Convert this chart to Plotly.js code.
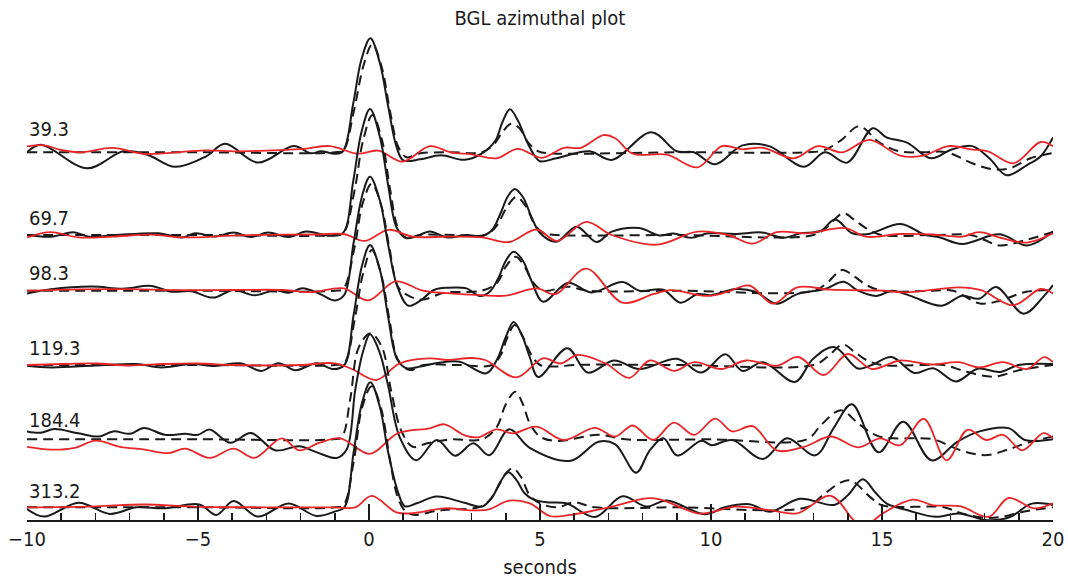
<!DOCTYPE html>
<html><head><meta charset="utf-8">
<script src="https://cdn.plot.ly/plotly-3.0.1.min.js"></script>
<style>html,body{margin:0;padding:0;background:#fff}#chart{width:1068px;height:582px}</style>
</head><body><div id="chart"></div>
<script>
// Station back-azimuth labels, vertical offsets of each trace, label heights
const labels = ['39.3','69.7','98.3','119.3','184.4','313.2'];
const offsets = [367.7, 285, 229.3, 155, 80.7, 12.7];
const labelY = [390.7, 301.7, 246.7, 171.7, 100, 29];

// ---- 39.3 ----
const t1s = [-10,-9.6,-8.24,-7.18,-6.48,-5.67,-4.76,-4.21,-3.25,-2.2,-1.7,-1.4,-1.0,-0.76,-0.46,-0.22,0.04,0.32,0.56,0.8,1.0,1.5,2.1,2.8,3.35,3.7,3.9,4.12,4.35,4.6,4.85,5.0,5.48,6.45,7.1,8.26,9.0,9.5,10.12,10.92,11.7,12.72,13.33,13.98,14.73,15.13,15.73,16.44,17.04,17.64,18.14,18.64,19.24,19.64,20];
const a1s = [0,7.6,-16,1,-2.4,-14.5,-4,8.6,-10.3,6.2,-1,1,-1.5,1,49,93,114,89,46,6,-8,-7,-3,-7.5,0,12,30,43,32,12,-4,-9,-6,1,-7.6,20,1,0,-12,6.9,6.2,-14.5,0,-10.3,24,15,9.7,-6,2.8,6.2,-6,-23,-12.8,-4,14.8];
const t1d = [-10,-5,-1.0,-0.75,-0.45,-0.15,0.1,0.38,0.62,0.86,1.1,1.5,2.4,3.3,3.65,3.9,4.15,4.4,4.65,4.95,5.3,9,12.8,13.3,13.8,14.33,14.93,15.5,16.2,16.9,17.64,18.24,18.74,19.34,20];
const a1d = [0,0,0,2,40,88,108,84,40,5,-5,-1,0,0,8,20,28.6,24,10,1,-1,0,0,2,12,26,9.7,1,0,0,-11,-17,-16,-6,-0.7];
const t1r = [-10,-9.5,-9.0,-8.4,-7.5,-6.6,-5.8,-4.8,-3.8,-2.8,-1.9,-1.14,-0.33,0.27,0.98,1.78,2.39,3.0,3.73,4.35,5.05,5.7,6.2,6.86,7.2,7.71,8.71,9.61,10.32,10.9,11.52,12.42,13.13,13.83,14.63,15.53,16.2,16.94,17.6,18.1,18.84,19.64,20];
const a1r = [6,7,2.3,0,4.5,-1.5,-0.5,2,1,2,3.4,6.2,-1.4,1.7,-9.3,6.2,0,-2,-6,3.5,-5.5,4.5,4.5,17.2,14,-1.4,-2.4,-15,6.2,3,4.5,-6,6.2,0,12.4,-3.4,-3.4,6.2,3,1,-11,10.3,6];

// ---- 69.7 ----
const t2s = [-10,-9.3,-8.64,-8.19,-7.4,-6.17,-5.47,-5.07,-4.5,-3.96,-3.45,-2.95,-2.35,-1.84,-1.14,-0.76,-0.46,-0.22,0.03,0.32,0.56,0.8,1.08,1.4,1.78,2.29,2.85,3.3,3.6,3.85,4.05,4.26,4.5,4.75,5.0,5.48,6.07,6.66,7.1,7.9,8.5,8.9,9.41,9.92,10.7,11.5,12.12,12.62,13.2,13.63,14.13,14.6,15.55,16.23,16.7,17.34,18.44,19.24,20];
const a2s = [0,-1.7,2.8,-1.7,0,1.7,-2.4,1.7,-1.5,2.4,-2,2.4,-2,3.4,-0.7,2,54,103,126,98,50,8,-3,-1,3.5,-2.4,0,-1,5,22,38,46,38,18,2,-6.7,8.3,-7,3.4,6.9,-0.5,1.5,-2.8,1.7,1,2.5,-2.8,1.7,4,15.5,1.7,1,11,0.5,-2.5,-9,0.7,-10.5,3.4];
const t2d = [-10,-5,-1.0,-0.75,-0.42,-0.17,0.1,0.38,0.62,0.86,1.1,1.5,2.5,3.4,3.75,4.0,4.31,4.6,4.85,5.1,5.5,9,13.0,13.4,13.86,14.2,14.54,15.0,16.5,17.6,18.0,18.44,19.2,20];
const a2d = [0,0,0,2,45,95,120,95,45,6,-3,0,0,0,10,26,38,28,10,2,0,0,0,8,21.7,15,6.7,0,0,0,-5,-10.5,-5,3];
const t2r = [-10,-9.3,-8.5,-7.5,-6.4,-5.4,-4.0,-2.5,-1.5,-0.74,-0.13,0.57,1.28,2.3,3.3,4.1,4.9,5.5,6.35,7.1,8.41,9.6,10.5,11.22,11.92,12.8,13.93,14.53,15.5,16.5,17.34,17.84,18.54,19.24,20];
const a2r = [-2.4,2.8,-2.4,-1.7,0.3,-2.4,-0.7,0.3,0.5,1,-5.9,5.2,-1.7,-1.7,-2.4,-7,5.5,-6,13.2,0,-9.7,3.4,0,-8.6,2.8,1.7,6.9,-1.7,1,0.5,-1.7,2.8,-3.4,-7.6,1.7];

// ---- 98.3 ----
const t3s = [-10,-9.3,-8.09,-7.2,-6.37,-5.77,-5.2,-4.56,-3.96,-3.35,-2.75,-2.35,-1.94,-1.45,-0.99,-0.72,-0.45,-0.2,0.03,0.32,0.56,0.82,1.15,1.5,1.9,2.3,2.85,3.24,3.53,3.8,4.0,4.23,4.5,4.75,5.09,5.82,6.5,7.41,7.91,8.6,9.11,9.61,10.0,10.72,11.3,11.92,12.52,13.33,13.88,14.3,14.83,15.3,15.83,16.74,17.34,17.84,18.34,19.14,19.74,20];
const a3s = [-2.8,1.5,4.1,2,4.8,-1,-0.5,-6.9,0.7,-4.5,0.5,-2,2.4,-3,-9.7,-4,48,95,114,90,46,5,-15,-10,0.7,3,2.3,-5.3,-1,14,30,39,30,10,-11,8,-1.7,8.6,0,1,-12,-3.4,-4.5,1.7,-1,-13,-3.4,1.7,9,0,-5.2,0,-5.2,-15,-5,-8,3.7,-23,-5.2,5.5];
const t3d = [-10,-5,-1.0,-0.75,-0.43,-0.18,0.08,0.36,0.6,0.85,1.1,1.55,2.2,3.3,3.75,4.0,4.29,4.55,4.8,5.1,5.82,6.4,9,13.0,13.4,13.83,14.2,14.54,15.0,16.5,17.08,17.86,18.44,19.22,20];
const a3d = [0,0,0,2,42,88,107,85,42,4,-4,-9,-2,0,8,24,34,24,8,0,4,0,0,0,8,20.7,14,5.7,0,0,0,-12.7,-10,-1,0.7];
const t3r = [-10,-8.5,-7.0,-5.5,-4.0,-2.5,-1.7,-0.74,-0.03,0.78,1.58,2.3,3.29,4.0,4.9,5.45,6.35,7.41,8.31,8.8,9.92,10.5,11.12,11.82,12.52,13.5,15.0,15.73,17.24,17.9,18.84,19.64,20];
const a3r = [0,1.4,1.5,0.5,0.7,0.7,-1.5,2.4,-9.7,9.3,0,-2.5,-4.5,-5,2.3,-3.5,22,-12,-3.4,0.5,-5.2,-1,5.2,-13,3.4,1,0,-1.7,3.4,0.5,-14.5,1.7,-2.8];

// ---- 119.3 ----
const t4s = [-10,-9.3,-8,-6.8,-6.07,-5.2,-4.5,-3.76,-3.15,-2.65,-2.15,-1.54,-1.04,-0.72,-0.45,-0.2,0.03,0.32,0.56,0.82,1.1,1.5,2.0,2.65,3.43,3.75,4.0,4.23,4.47,4.7,4.95,5.8,6.4,7.16,7.91,9.01,9.72,10.42,10.92,11.52,12.45,12.98,13.6,14.3,14.7,15.28,15.95,16.5,17.16,17.8,18.44,19.0,20];
const a4s = [-0.7,-2.4,-0.5,1,-2.4,1,-1,1.7,-5.9,1.7,-5.2,1.7,-4.1,0,50,100,120,95,48,6,-3.3,-1.5,2,3.3,-8.3,6,28,43,30,8,-12,16.7,-7.6,4.5,-4.1,6.2,-7.6,10.7,-5.9,2.8,-17,6,18,-3.5,0,8,-8,-3.3,-16.5,-3.7,-7,0,1];
const t4d = [-10,-5,-1.0,-0.72,-0.42,-0.17,0.08,0.36,0.6,0.85,1.19,1.6,2.6,3.6,3.85,4.05,4.26,4.5,4.75,5.0,5.5,6.0,9,13.0,13.4,13.86,14.2,14.54,15.0,16.2,16.8,17.47,18.25,19.03,20];
const a4d = [0,0,0,2,45,92,115,90,45,5,-5,0,0,0,10,28,40,28,10,0,-1.5,0,0,0,8,20.5,13,5,0,0,0,-6.7,-11.7,-5,0];
const t4r = [-10,-9,-8,-7,-6,-5,-4,-3,-2,-1.0,-0.5,0.22,0.9,1.78,2.3,3.0,3.4,4.31,5.09,5.6,6.1,6.91,7.61,8.21,8.91,9.51,10.32,11.02,11.92,12.55,13.3,14.0,14.7,15.53,16.4,17.24,17.84,18.54,19.24,19.74,20];
const a4r = [0,1,1.5,-0.5,1,1.5,0,-0.5,0,1.7,-4,-15,1.7,6.7,5,7,5,-12.3,6.7,1.5,10,1.7,-12.8,4.5,-5.9,2.8,-4,4.5,-0.7,8,-10,11,-4,4.5,0.5,2.8,-2.4,2.8,-4,7.9,2.8];

// ---- 184.4 ----
const t5s = [-10,-9.6,-9.2,-8.5,-7.89,-7.48,-6.98,-6.58,-5.97,-5.37,-5.0,-4.66,-4.06,-3.45,-2.75,-2.04,-1.54,-0.94,-0.65,-0.4,-0.18,0.03,0.3,0.55,0.9,1.38,1.98,2.52,3.05,3.52,4.1,4.7,5.9,6.71,7.2,7.81,8.21,8.61,9.01,9.72,10.02,10.62,11.52,12.22,13.05,13.6,14.12,14.9,15.62,16.45,17.2,17.85,18.7,19.18,20];
const a5s = [7.9,6.5,10.3,6,2.8,7.9,5.5,11.4,4.5,5.5,4.5,9.7,-3.4,6.2,-11,-6.9,-12.8,-18.6,-10,50,87,105,88,55,2,-21,-0.7,-16.5,-4,-16,10,-8.5,-21.4,-2.4,-5,-33.4,-11,1,-16.2,-1.4,-5.9,-0.7,-19.7,1,-16,12,35,-13,17.5,-21,-2.5,7.9,11.2,-0.7,0];
const t5d = [-10,-5,-1.05,-0.8,-0.55,-0.3,0.05,0.38,0.65,0.95,1.28,1.7,2.4,3.3,3.73,4.0,4.28,4.5,4.7,5.0,5.5,6.71,7.5,10,12.8,13.23,13.8,14.35,14.93,16.5,17.04,17.6,18.1,18.7,19.3,20];
const a5d = [0,0,0,2,40,92,106,92,48,8,-7.5,-4,0,0,12,35,47.6,35,16,2.7,-1.7,4.5,0,0,0,14.8,29,14.5,2.7,0,-7.6,-14,-15.7,-10,-3,2.8];
const t5r = [-10,-9.3,-8.6,-7.99,-7.28,-6.6,-5.87,-5.37,-4.66,-3.96,-3.35,-2.55,-2.04,-1.44,-0.84,0.02,0.85,1.78,2.2,2.8,3.2,3.73,4.2,4.9,5.7,6.6,7.2,7.71,8.31,8.91,9.51,10.12,10.62,11.22,11.92,12.72,13.5,14.3,14.95,15.53,16.22,16.89,17.5,18.05,18.54,19.1,19.72,20];
const a5r = [-7.6,-10.3,-8.5,-1.4,-7.6,-10,-13.8,-9.3,-18.6,-9.3,-18.6,1,-11,-3.4,1,-14.5,6.2,11,15,4,2,10,6,12.7,-0.7,11.4,2.8,13.8,-0.7,16.6,4.5,20.7,7.9,13.1,-11,-7.6,2.8,-8,1,-5.9,20.5,-21,9.5,-0.7,4.5,-11,6.1,1];

// ---- 313.2 ----
const t6s = [-10,-9.5,-8.49,-7.58,-6.8,-6.0,-4.96,-4.46,-3.96,-3.25,-2.35,-1.54,-0.99,-0.72,-0.45,-0.2,0.04,0.32,0.56,0.85,1.05,1.4,1.98,2.79,3.3,3.6,3.85,4.07,4.3,4.55,4.8,5.2,5.77,6.61,7.41,8.11,8.71,9.82,10.4,11.12,11.72,12.6,13.6,14.0,14.44,14.8,15.13,15.8,16.56,17.24,18.1,18.74,19.38,20];
const a6s = [-1.7,-9.3,4.5,-6.6,0,-1,2.8,-7.6,6.2,-9.3,3.8,-8.6,-4.1,0,55,105,125,100,55,15,1,4,10.7,4.5,0.7,10,26,35,28,14,8,5,4,-9.7,11,0.7,6.9,-6.9,0,3.1,-4.5,8.5,2.4,12,28,15,4,-3.5,-9.5,-6.2,-13,-9.7,3.7,2.4];
const t6d = [-10,-5,-1.0,-0.75,-0.45,-0.2,0.08,0.36,0.6,0.86,1.1,1.38,1.9,2.3,3.2,3.5,3.8,4.0,4.21,4.45,4.7,5.0,5.5,6.0,6.6,9,12.8,13.23,13.8,14.1,14.64,15.0,16.8,17.34,18.04,18.5,19.2,20];
const a6d = [0,0,0,2,45,100,121,98,50,8,-5,-7.6,-4,-2.4,0,6,22,34,39,30,12,4,0,5,0,0,0,11,25,26.7,10.7,2,0,-6.2,-10.5,-9.5,-4,0];
const t6r = [-10,-8,-6.58,-5,-3,-1,-0.4,0.08,0.8,1.28,2.2,3.0,3.5,4.1,4.7,5.29,5.9,7.1,8.1,8.5,9.6,10.0,10.72,11.72,12.52,13.5,14.13,14.45,14.8,15.03,15.9,16.5,17.3,18.12,18.7,19.44,20];
const a6r = [0,1,2.8,0.5,0,0,0,11.4,-5,-5.9,-1,-3,-2,6.6,4,-8.7,-7.5,0.7,9,8,-6,-5,0.7,-2.8,-6,11.5,-11.4,-22,-12,-6,7.6,2,1,-9.5,9.3,-1,4];

const stations = [
  {s:[t1s,a1s], d:[t1d,a1d], r:[t1r,a1r]},
  {s:[t2s,a2s], d:[t2d,a2d], r:[t2r,a2r]},
  {s:[t3s,a3s], d:[t3d,a3d], r:[t3r,a3r]},
  {s:[t4s,a4s], d:[t4d,a4d], r:[t4r,a4r]},
  {s:[t5s,a5s], d:[t5d,a5d], r:[t5r,a5r]},
  {s:[t6s,a6s], d:[t6d,a6d], r:[t6r,a6r]}
];

const INK = '#1a1a1a', RED = '#e8262a';
const FONT = "'Liberation Sans Narrow','DejaVu Sans Condensed','Liberation Sans',sans-serif";
const FS = 20;

const traces = [];
stations.forEach((st, i) => {
  const off = offsets[i];
  const mk = (pair, color, dash, w) => ({
    type: 'scatter', mode: 'lines',
    x: pair[0], y: pair[1].map(v => v + off),
    line: {color: color, width: w, dash: dash, shape: 'spline', smoothing: 1},
    hoverinfo: 'skip', showlegend: false
  });
  traces.push(mk(st.d, INK, '10px,6px', 2));
  traces.push(mk(st.s, INK, 'solid', 2));
  traces.push(mk(st.r, RED, 'solid', 1.8));
});

const layout = {
  width: 1068, height: 582,
  margin: {l: 27, r: 15, t: 30, b: 62},
  paper_bgcolor: '#ffffff', plot_bgcolor: '#ffffff',
  showlegend: false,
  font: {family: FONT, size: FS, color: INK},
  title: {text: 'BGL azimuthal plot', x: 0.5, xref: 'paper', xanchor: 'center',
          y: 1 - 18/582, yref: 'container', yanchor: 'middle',
          font: {family: FONT, size: FS, color: INK}},
  xaxis: {
    range: [-10, 20], tickmode: 'linear', tick0: -10, dtick: 5,
    ticks: 'inside', ticklen: 16, tickwidth: 1.5, tickcolor: INK,
    showline: true, linecolor: INK, linewidth: 1.5,
    showgrid: false, zeroline: false, automargin: false, fixedrange: true,
    minor: {tick0: -10, dtick: 1, ticks: 'inside', ticklen: 7, tickwidth: 1.5, tickcolor: INK, showgrid: false},
    tickfont: {family: FONT, size: FS, color: INK},
    title: {text: 'seconds', standoff: 10, font: {family: FONT, size: FS, color: INK}}
  },
  yaxis: {range: [0, 490], visible: false, fixedrange: true},
  annotations: labels.map((l, i) => ({
    x: -10, y: labelY[i], xref: 'x', yref: 'y', text: l, showarrow: false,
    xanchor: 'left', yanchor: 'middle', font: {family: FONT, size: FS, color: INK}
  }))
};

Plotly.newPlot('chart', traces, layout, {displayModeBar: false, staticPlot: true});
</script>
</body></html>
